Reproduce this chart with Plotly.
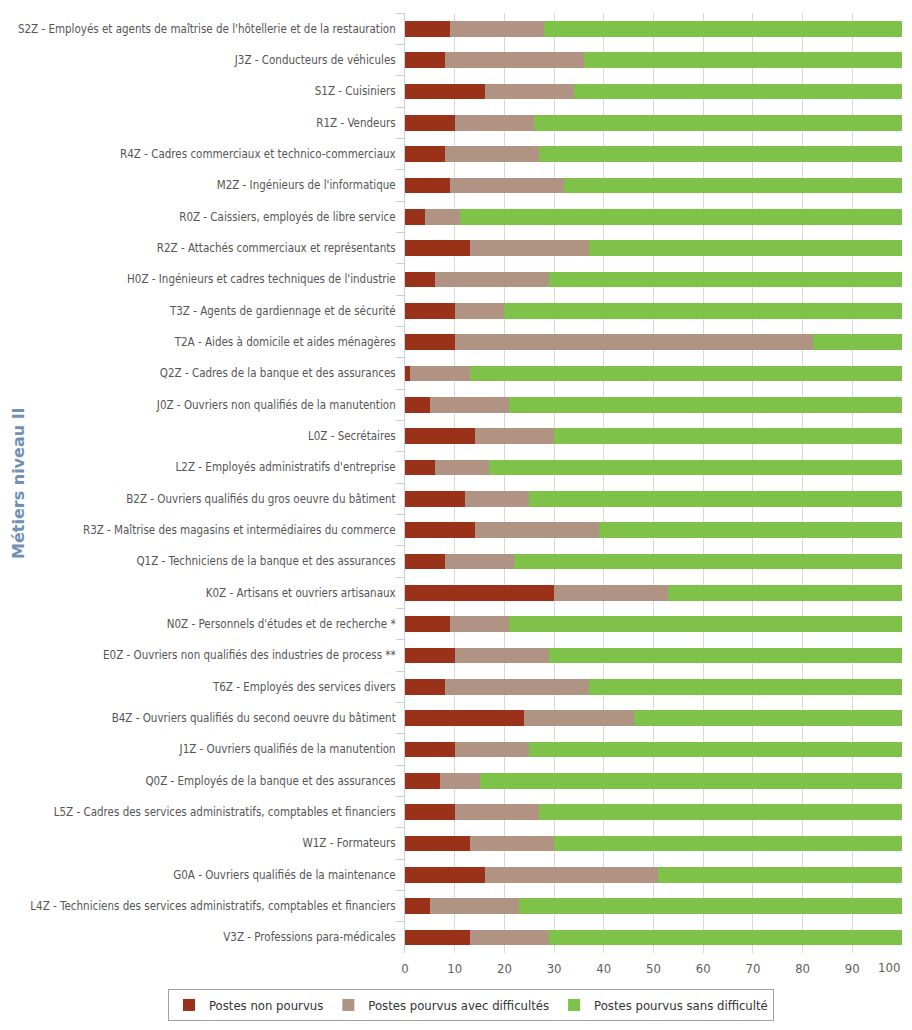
import plotly.graph_objects as go

categories = [
    "S2Z - Employés et agents de maîtrise de l'hôtellerie et de la restauration",
    "J3Z - Conducteurs de véhicules",
    "S1Z - Cuisiniers",
    "R1Z - Vendeurs",
    "R4Z - Cadres commerciaux et technico-commerciaux",
    "M2Z - Ingénieurs de l'informatique",
    "R0Z - Caissiers, employés de libre service",
    "R2Z - Attachés commerciaux et représentants",
    "H0Z - Ingénieurs et cadres techniques de l'industrie",
    "T3Z - Agents de gardiennage et de sécurité",
    "T2A - Aides à domicile et aides ménagères",
    "Q2Z - Cadres de la banque et des assurances",
    "J0Z - Ouvriers non qualifiés de la manutention",
    "L0Z - Secrétaires",
    "L2Z - Employés administratifs d'entreprise",
    "B2Z - Ouvriers qualifiés du gros oeuvre du bâtiment",
    "R3Z - Maîtrise des magasins et intermédiaires du commerce",
    "Q1Z - Techniciens de la banque et des assurances",
    "K0Z - Artisans et ouvriers artisanaux",
    "N0Z - Personnels d'études et de recherche *",
    "E0Z - Ouvriers non qualifiés des industries de process **",
    "T6Z - Employés des services divers",
    "B4Z - Ouvriers qualifiés du second oeuvre du bâtiment",
    "J1Z - Ouvriers qualifiés de la manutention",
    "Q0Z - Employés de la banque et des assurances",
    "L5Z - Cadres des services administratifs, comptables et financiers",
    "W1Z - Formateurs",
    "G0A - Ouvriers qualifiés de la maintenance",
    "L4Z - Techniciens des services administratifs, comptables et financiers",
    "V3Z - Professions para-médicales",
]

non_pourvus = [9, 8, 16, 10, 8, 9, 4, 13, 6, 10, 10, 1, 5, 14, 6, 12, 14, 8, 30, 9,
               10, 8, 24, 10, 7, 10, 13, 16, 5, 13]
avec_difficultes = [19, 28, 18, 16, 19, 23, 7, 24, 23, 10, 72, 12, 16, 16, 11, 13, 25, 14, 23, 12,
                    19, 29, 22, 15, 8, 17, 17, 35, 18, 16]
sans_difficulte = [72, 64, 66, 74, 73, 68, 89, 63, 71, 80, 18, 87, 79, 70, 83, 75, 61, 78, 47, 79,
                   71, 63, 54, 75, 85, 73, 70, 49, 77, 71]

x_tick_values = [0, 10, 20, 30, 40, 50, 60, 70, 80, 90, 100]
x_tick_labels = ["0", "10", "20", "30", "40", "50", "60", "70", "80", "90", "100"]

series = [
    ("Postes non pourvus", non_pourvus, "#9A3119"),
    ("Postes pourvus avec difficultés", avec_difficultes, "#B09382"),
    ("Postes pourvus sans difficulté", sans_difficulte, "#7FC24A"),
]

fig = go.Figure()
for name, vals, color in series:
    fig.add_trace(go.Bar(
        y=categories, x=vals, name=name, orientation="h",
        marker=dict(color=color, line=dict(width=0)),
    ))

W, H = 896, 1014
L, R, T, B = 397, 2, 5, 69
pw, ph = W - L - R, H - T - B

tickfont = dict(family="DejaVu Sans Condensed, sans-serif", size=13, color="#606060")

fig.update_layout(
    barmode="stack",
    bargap=0.5,
    width=W, height=H,
    margin=dict(l=L, r=R, t=T, b=B, autoexpand=False),
    paper_bgcolor="white",
    plot_bgcolor="white",
    font=dict(family="DejaVu Sans Condensed, sans-serif", size=12, color="#606060"),
    legend=dict(
        orientation="h", x=(160 - L) / pw, xanchor="left", y=-52 / ph, yanchor="middle",
        bordercolor="#A0A0A0", borderwidth=1, bgcolor="white",
        font=dict(family="DejaVu Sans Condensed, sans-serif", size=13, color="#333333"),
        traceorder="normal", itemwidth=30,
    ),
    xaxis=dict(
        range=[0, 100], tickmode="array", tickvals=x_tick_values,
        ticktext=x_tick_labels[:-1] + [""],
        showgrid=True, gridcolor="#D8D8D8", gridwidth=1,
        zeroline=False, showline=False,
        ticks="outside", ticklen=3, tickcolor="rgba(0,0,0,0)",
        automargin=False, tickfont=tickfont,
    ),
    yaxis=dict(
        autorange="reversed", type="category", automargin=False,
        showline=True, linecolor="#C0D0E0", linewidth=1,
        ticks="outside", ticklen=8, tickcolor="#C0D0E0", tickson="boundaries",
        ticklabelstandoff=6,
        showgrid=False,
        tickfont=dict(family="DejaVu Sans Condensed, sans-serif", size=11.5, color="#555555"),
    ),
    annotations=[
        dict(
            text="<b>Métiers niveau II</b>", textangle=-90,
            xref="paper", yref="paper", x=(10 - L) / pw, y=0.5,
            xanchor="center", yanchor="middle", showarrow=False,
            font=dict(family="DejaVu Sans, sans-serif", size=16, color="#7090B4"),
        ),
        dict(
            text=x_tick_labels[-1], xref="x", yref="paper",
            x=x_tick_values[-1], y=0, yshift=-5,
            xanchor="right", yanchor="top", showarrow=False, font=tickfont,
        ),
    ],
)

fig.write_html("out.html")
